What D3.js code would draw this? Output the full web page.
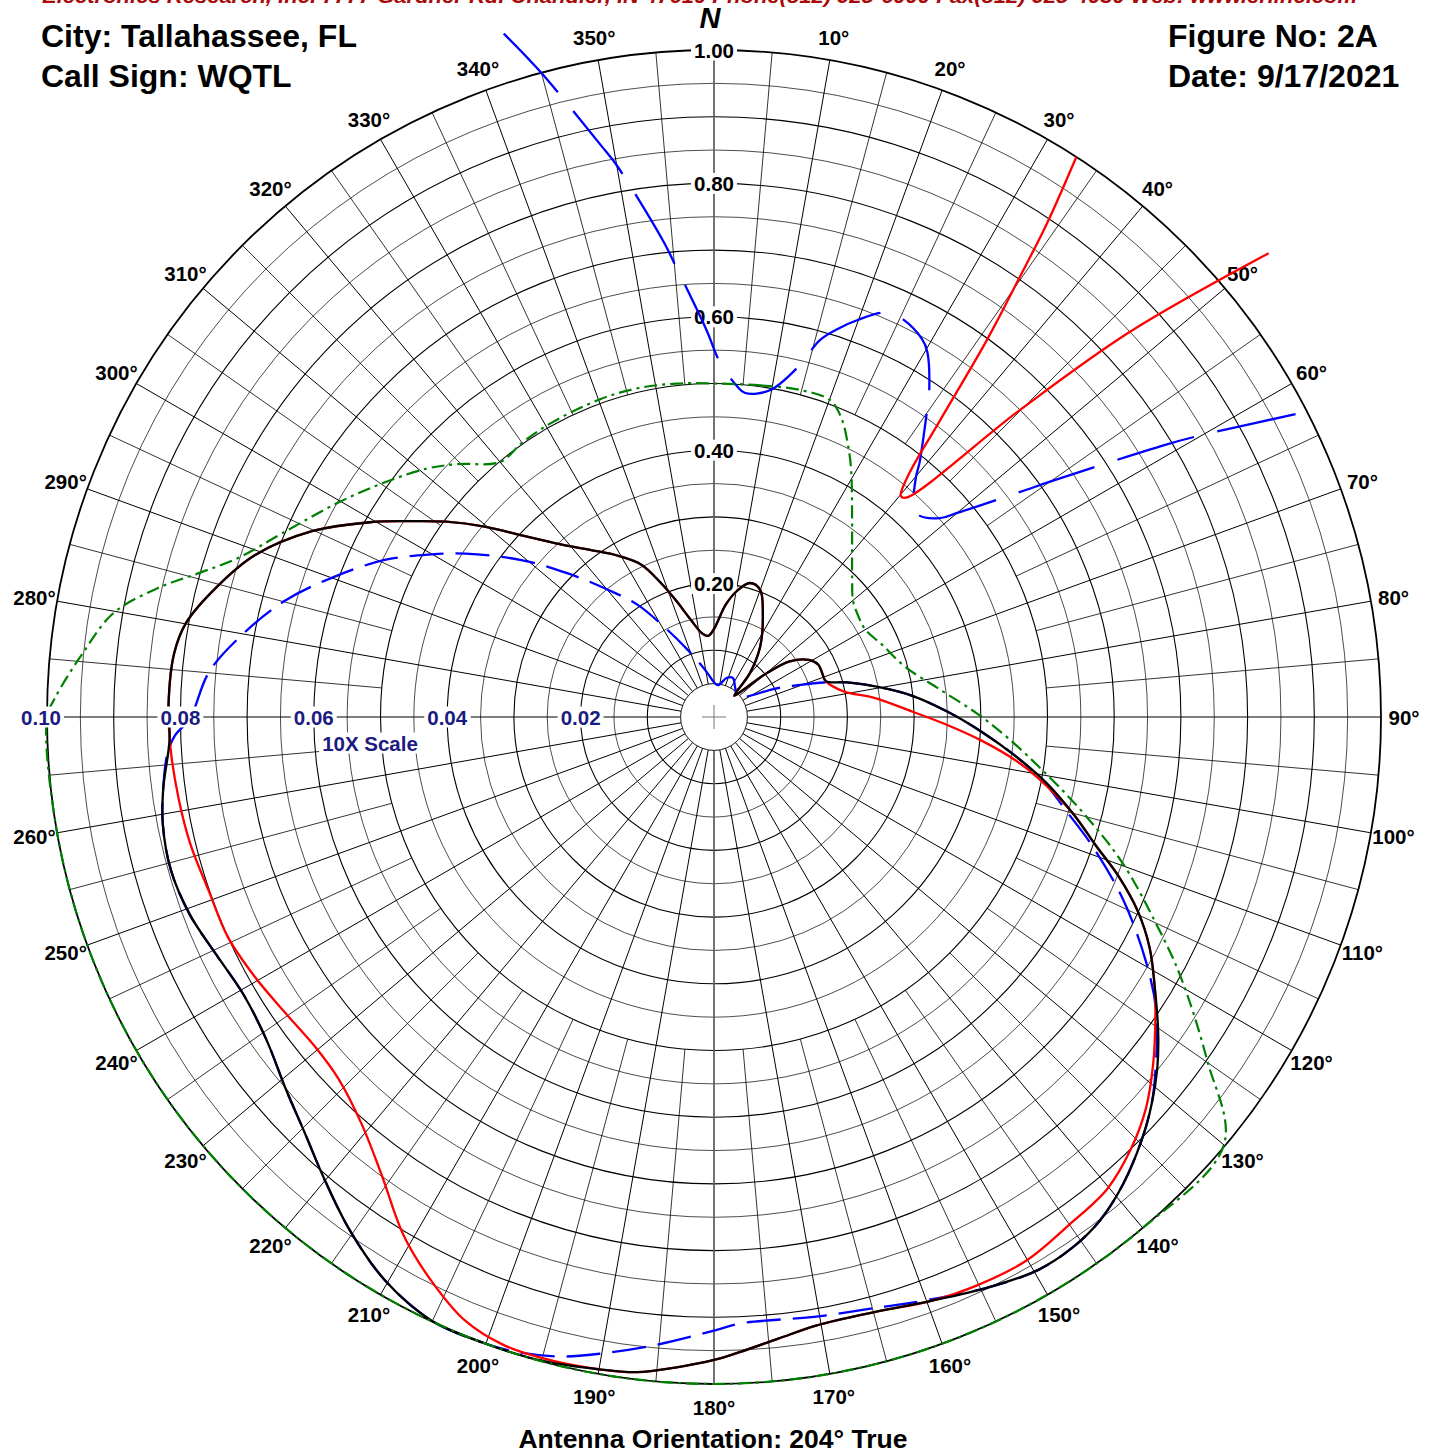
<!DOCTYPE html>
<html>
<head>
<meta charset="utf-8">
<script src="https://cdn.jsdelivr.net/npm/d3@7"></script>
<style>
	body { margin: 0; background: #fff; }
	text { font-family: "Liberation Sans", Arial, sans-serif; font-weight: bold; }
</style>
</head>
<body>
<div id="chart"></div>
<script>
// [bearing in degrees, relative field]
var blackPattern = [
	[0,0.132],[5.9,0.169],[10.3,0.192],[15,0.208],[19.9,0.203],[25.2,0.172],[33.3,0.126],[39.3,0.085],
	[43.5,0.044],[47,0.059],[50.3,0.103],[53.7,0.141],[59,0.166],[63.4,0.175],[68.1,0.175],[72.2,0.176],
	[75.4,0.206],[79.6,0.250],[83.9,0.299],[88.6,0.349],[93.1,0.401],[97.4,0.456],[101.2,0.508],[105.1,0.558],
	[108.6,0.604],[111.5,0.652],[114.7,0.700],[117.9,0.739],[121.6,0.776],[125.4,0.817],[128.4,0.848],
	[131.5,0.876],[134.7,0.902],[138.8,0.931],[142.5,0.951],[145.9,0.960],[149.6,0.961],[154.3,0.949],
	[159.6,0.934],[164.9,0.924],[170.4,0.925],[174.1,0.937],[177.7,0.953],[180,0.964],[183.4,0.977],
	[186.7,0.989],[190,0.993],[195,0.999],[200.2,1.0],[205.1,0.999],[210.3,0.978],[215.3,0.944],[220.3,0.905],
	[224.5,0.875],[229.1,0.850],[234.3,0.827],[239.5,0.819],[244.5,0.827],[249.4,0.840],[254.3,0.846],
	[258.9,0.842],[262.5,0.833],[267.6,0.817],[271.5,0.818],[276.7,0.815],[280.1,0.804],[284.6,0.771],
	[289.4,0.730],[294.8,0.664],[299.5,0.593],[302.6,0.545],[306.1,0.497],[309.7,0.447],[313.5,0.395],
	[318.4,0.346],[323.4,0.312],[329.3,0.281],[334.5,0.253],[338.3,0.217],[341.9,0.184],[346.7,0.149],
	[352.2,0.126],[356,0.122]
]

var redPattern = [
	[0,0.132],[5.9,0.169],[10.3,0.192],[15,0.208],[19.9,0.203],[25.2,0.172],[33.3,0.126],[39.3,0.085],
	[43.5,0.044],[47,0.059],[50.3,0.103],[53.7,0.141],[59,0.166],[63.4,0.175],[68.1,0.175],[72.2,0.176],
	[78.8,0.198],[83.2,0.242],[88.4,0.297],[91.9,0.349],[95,0.402],[98.2,0.457],[100.7,0.495],[105.1,0.558],
	[108.6,0.604],[111.5,0.652],[114.7,0.700],[117.9,0.739],[121.6,0.776],[124.4,0.802],[128.3,0.839],
	[132.2,0.874],[136,0.900],[140.2,0.921],[145,0.929],[150.1,0.940],[155.1,0.939],[159.6,0.934],
	[164.9,0.924],[170.4,0.925],[174.1,0.937],[177.7,0.953],[180,0.964],[183.4,0.977],[186.7,0.989],
	[190,0.993],[194,0.995],[198.5,0.993],[202.4,0.979],[206.7,0.945],[210.9,0.906],[216.1,0.847],
	[220.9,0.807],[226,0.782],[230.2,0.776],[235.4,0.781],[240.5,0.791],[245.7,0.800],[250.9,0.801],
	[256.5,0.808],[261.4,0.812],[266.6,0.816],[271.5,0.818],[276.7,0.815],[280.1,0.804],[284.6,0.771],
	[289.4,0.730],[294.8,0.664],[299.5,0.593],[302.6,0.545],[306.1,0.497],[309.7,0.447],[313.5,0.395],
	[318.4,0.346],[323.4,0.312],[329.3,0.281],[334.5,0.253],[338.3,0.217],[341.9,0.184],[346.7,0.149],
	[352.2,0.126],[356,0.122]
]

var bluePattern = [
	[0,0.052],[7,0.048],[18.4,0.062],[26,0.065],[35,0.055],[46.3,0.048],[55.4,0.053],[65,0.100],
	[69.6,0.138],[72.6,0.173],[75.4,0.206],[79.6,0.250],[83.9,0.299],[88.6,0.349],[93.1,0.401],[97.4,0.456],
	[101.2,0.505],[104.8,0.545],[108.8,0.599],[114,0.671],[119.5,0.744],[123.6,0.796],[128.4,0.845],
	[131.5,0.876],[134.7,0.902],[138.8,0.931],[142.5,0.951],[145.9,0.960],[149.6,0.961],[154.3,0.949],
	[160.2,0.930],[164.9,0.918],[170.3,0.912],[177.5,0.910],[180,0.920],[185.2,0.945],[190.2,0.970],
	[193.5,0.986],[197.4,0.997],[200.2,1.0],[205.1,0.999],[210.3,0.978],[215.3,0.944],[220.3,0.905],
	[224.5,0.875],[229.1,0.850],[234.3,0.827],[239.5,0.819],[244.5,0.827],[249.4,0.840],[254.3,0.846],
	[258.9,0.842],[262.5,0.833],[266,0.822],[268,0.809],[269.8,0.786],[275.1,0.760],[280,0.717],
	[285.2,0.666],[290,0.610],[295.5,0.547],[299.9,0.489],[303.3,0.446],[309.3,0.371],[314.6,0.306],
	[320,0.250],[325.7,0.204],[331.1,0.154],[338.4,0.109],[350.5,0.069]
]

var greenEnvelope = [
	[0,0.500],[7.9,0.502],[14.7,0.507],[20.1,0.506],[23,0.488],[26,0.457],[29,0.424],[35,0.361],[40,0.322],
	[45,0.293],[50,0.272],[55,0.264],[60,0.262],[66.6,0.274],[75.2,0.296],[82.9,0.340],[89.3,0.395],
	[94.1,0.442],[99.7,0.505],[104.7,0.574],[109.7,0.651],[115.2,0.734],[119,0.799],[124.8,0.900],[130,0.998],
	[140,1],[150,1],[160,1],[170,1],[180,1],[190,1],[200,1],[210,1],[220,1],[230,1],[240,1],[250,1],[260,1],
	[270,1],[271.7,0.988],[275.8,0.951],[279.8,0.914],[283,0.857],[285.6,0.802],[288.5,0.752],[293,0.704],
	[299.8,0.648],[305.5,0.606],[310.9,0.569],[314.6,0.540],[320,0.499],[325.2,0.502],[331.4,0.504],
	[340.1,0.506],[346.9,0.506],[353.5,0.503]
]

// low level parts drawn on the 10X scale
var blue10x = [
	[342.9,0.1072],[344.9,0.1003],[348.8,0.0874],[350,0.0840],[354,0.0715],[355,0.0683],[358.9,0.0580],
	[0.9,0.0533],[4,0.0497],[5.5,0.0488],[9.7,0.0497],[13.7,0.0543],[15.7,0.0587],[17.9,0.0613],[19.9,0.0633],
	[22.7,0.0657],[24.9,0.0661],[28.8,0.0647],[30.3,0.0634],[33.9,0.0578],[34.9,0.0558],[38.9,0.0491],
	[40.1,0.0470],[43.3,0.0437],[45.4,0.0431],[48.6,0.0451],[50,0.0476],[53.9,0.0577],[55,0.0615],
	[58.9,0.0790],[60,0.0846],[63,0.1016]
]

var red10x = [
	[32.9,0.1000],[34,0.0893],[34.8,0.0803],[35.9,0.0698],[37.3,0.0560],[38.9,0.0461],[40.2,0.0434],
	[41.2,0.0437],[44.9,0.0650],[47.2,0.0850],[50.1,0.1084]
]

var ringLabels = [1.00, 0.80, 0.60, 0.40, 0.20]
var scale10Labels = [0.10, 0.08, 0.06, 0.04, 0.02]
var angleLabels = [10,20,30,40,50,60,70,80,90,100,110,120,130,140,150,160,170,180,
	190,200,210,220,230,240,250,260,280,290,300,310,320,330,340,350]

var width = 1433, height = 1454
var cx = 714, cy = 717, R = 667

var r = d3.scaleLinear().domain([0, 1]).range([0, R])
var r10 = d3.scaleLinear().domain([0, 0.1]).range([0, R])

var svg = d3.select("#chart")
	.append("svg")
	.attr("width", width)
	.attr("height", height)

var g = svg.append("g")
	.attr("transform", "translate(" + cx + "," + cy + ")")

function polar(deg, rad) {
	var a = deg * Math.PI / 180
	return [rad * Math.sin(a), -rad * Math.cos(a)]
}

function boxedText(parent, x, y, str, size, color) {
	var t = parent.append("text")
		.attr("x", x).attr("y", y)
		.attr("text-anchor", "middle")
		.attr("dominant-baseline", "central")
		.style("font-size", size + "px")
		.attr("fill", color)
		.text(str)
	var b = t.node().getBBox()
	parent.insert("rect", function() { return t.node() })
		.attr("x", b.x - 3).attr("y", b.y + 1)
		.attr("width", b.width + 6).attr("height", b.height - 2)
		.attr("fill", "#fff")
	return t
}

// grid
var rings = d3.range(1, 21).map(function(i) { return i * 0.05 })
g.selectAll(".ring")
	.data(rings)
	.enter().append("circle")
	.attr("class", "ring")
	.attr("r", function(d) { return r(d) })
	.attr("fill", "none")
	.attr("stroke", "#000")
	.attr("stroke-width", function(d, i) { return i === 19 ? 1.8 : (i % 2 ? 1.1 : 0.7) })

var spokes = d3.range(0, 360, 5).filter(function(a) { return a % 180 !== 0 })
g.selectAll(".spoke")
	.data(spokes)
	.enter().append("line")
	.attr("class", "spoke")
	.attr("x1", function(a) { return polar(a, a % 10 === 0 ? r(0.05) : r(0.5))[0] })
	.attr("y1", function(a) { return polar(a, a % 10 === 0 ? r(0.05) : r(0.5))[1] })
	.attr("x2", function(a) { return polar(a, R)[0] })
	.attr("y2", function(a) { return polar(a, R)[1] })
	.attr("stroke", "#000")
	.attr("stroke-width", function(a) { return a % 10 === 0 ? 1 : 0.8 })

// north-south axis
g.append("line").attr("x1", 0).attr("y1", -R).attr("x2", 0).attr("y2", -r(0.05))
	.attr("stroke", "#5a5a5a").attr("stroke-width", 1.7)
g.append("line").attr("x1", 0).attr("y1", r(0.05)).attr("x2", 0).attr("y2", R)
	.attr("stroke", "#5a5a5a").attr("stroke-width", 1.7)

g.append("circle").attr("r", r(0.05)).attr("fill", "#fff").attr("stroke", "#000").attr("stroke-width", 0.7)
g.append("line").attr("x1", -12).attr("x2", 12).attr("y1", 0).attr("y2", 0).attr("stroke", "#777")
g.append("line").attr("y1", -12).attr("y2", 12).attr("x1", 0).attr("x2", 0).attr("stroke", "#777")

// ring labels on the north axis
ringLabels.forEach(function(v) {
	boxedText(g, 0, -r(v), v.toFixed(2), 20.5, "#000")
})

// bearing labels
angleLabels.forEach(function(a) {
	var p = polar(a, 690)
	g.append("text")
		.attr("x", p[0]).attr("y", p[1])
		.attr("text-anchor", "middle")
		.attr("dominant-baseline", "central")
		.style("font-size", "20.5px")
		.text(a + "°")
})

g.append("text")
	.attr("x", -4).attr("y", 28 - cy)
	.attr("text-anchor", "middle")
	.style("font-size", "29px")
	.style("font-style", "italic")
	.text("N")

// patterns
var line = d3.lineRadial()
	.angle(function(d) { return d[0] * Math.PI / 180 })
	.radius(function(d) { return r(d[1]) })
	.curve(d3.curveCatmullRomClosed.alpha(0.5))

var line10 = d3.lineRadial()
	.angle(function(d) { return d[0] * Math.PI / 180 })
	.radius(function(d) { return r10(d[1]) })
	.curve(d3.curveCatmullRom.alpha(0.5))

g.append("path").attr("d", line(bluePattern))
	.attr("fill", "none").attr("stroke", "#0000ff").attr("stroke-width", 2.3)
	.attr("stroke-dasharray", "34,12")

g.append("path").attr("d", line10(blue10x))
	.attr("fill", "none").attr("stroke", "#0000ff").attr("stroke-width", 2.3)
	.attr("stroke-dasharray", "80,24")

g.append("path").attr("d", line(redPattern))
	.attr("fill", "none").attr("stroke", "#ff0000").attr("stroke-width", 2.3)

g.append("path").attr("d", line10(red10x))
	.attr("fill", "none").attr("stroke", "#ff0000").attr("stroke-width", 2.3)

g.append("path").attr("d", line(blackPattern))
	.attr("fill", "none").attr("stroke", "#000").attr("stroke-width", 2.3)

g.append("path").attr("d", line(greenEnvelope))
	.attr("fill", "none").attr("stroke", "#008000").attr("stroke-width", 2.2)
	.attr("stroke-dasharray", "13,5,3,5")

// 10X scale labels on the west axis
scale10Labels.forEach(function(v, i) {
	var x = -r10(v) - (i === 0 ? 6 : 0)
	boxedText(g, x, 0, v.toFixed(2), 20.5, "#1b1b80")
})
boxedText(g, 370 - cx, 743 - cy, "10X Scale", 20.5, "#1b1b80")

// header texts
svg.append("text")
	.attr("x", 42).attr("y", 3)
	.attr("fill", "#a80a0a")
	.style("font-size", "21px")
	.style("font-style", "italic")
	.attr("textLength", 1315)
	.attr("lengthAdjust", "spacingAndGlyphs")
	.text("Electronics Research, Inc.  7777 Gardner Rd.  Chandler, IN  47610  Phone(812) 925-6000  Fax(812) 925-4030  Web: www.eriinc.com")

var titles = [
	{ x: 41, y: 47, t: "City: Tallahassee, FL" },
	{ x: 41, y: 87, t: "Call Sign: WQTL" },
	{ x: 1168, y: 47, t: "Figure No: 2A" },
	{ x: 1168, y: 87, t: "Date: 9/17/2021" }
]
svg.selectAll(".title")
	.data(titles)
	.enter().append("text")
	.attr("class", "title")
	.attr("x", function(d) { return d.x })
	.attr("y", function(d) { return d.y })
	.style("font-size", "32px")
	.text(function(d) { return d.t })

svg.append("text")
	.attr("x", 713).attr("y", 1448)
	.attr("text-anchor", "middle")
	.style("font-size", "26.5px")
	.text("Antenna Orientation: 204° True")
</script>
</body>
</html>
